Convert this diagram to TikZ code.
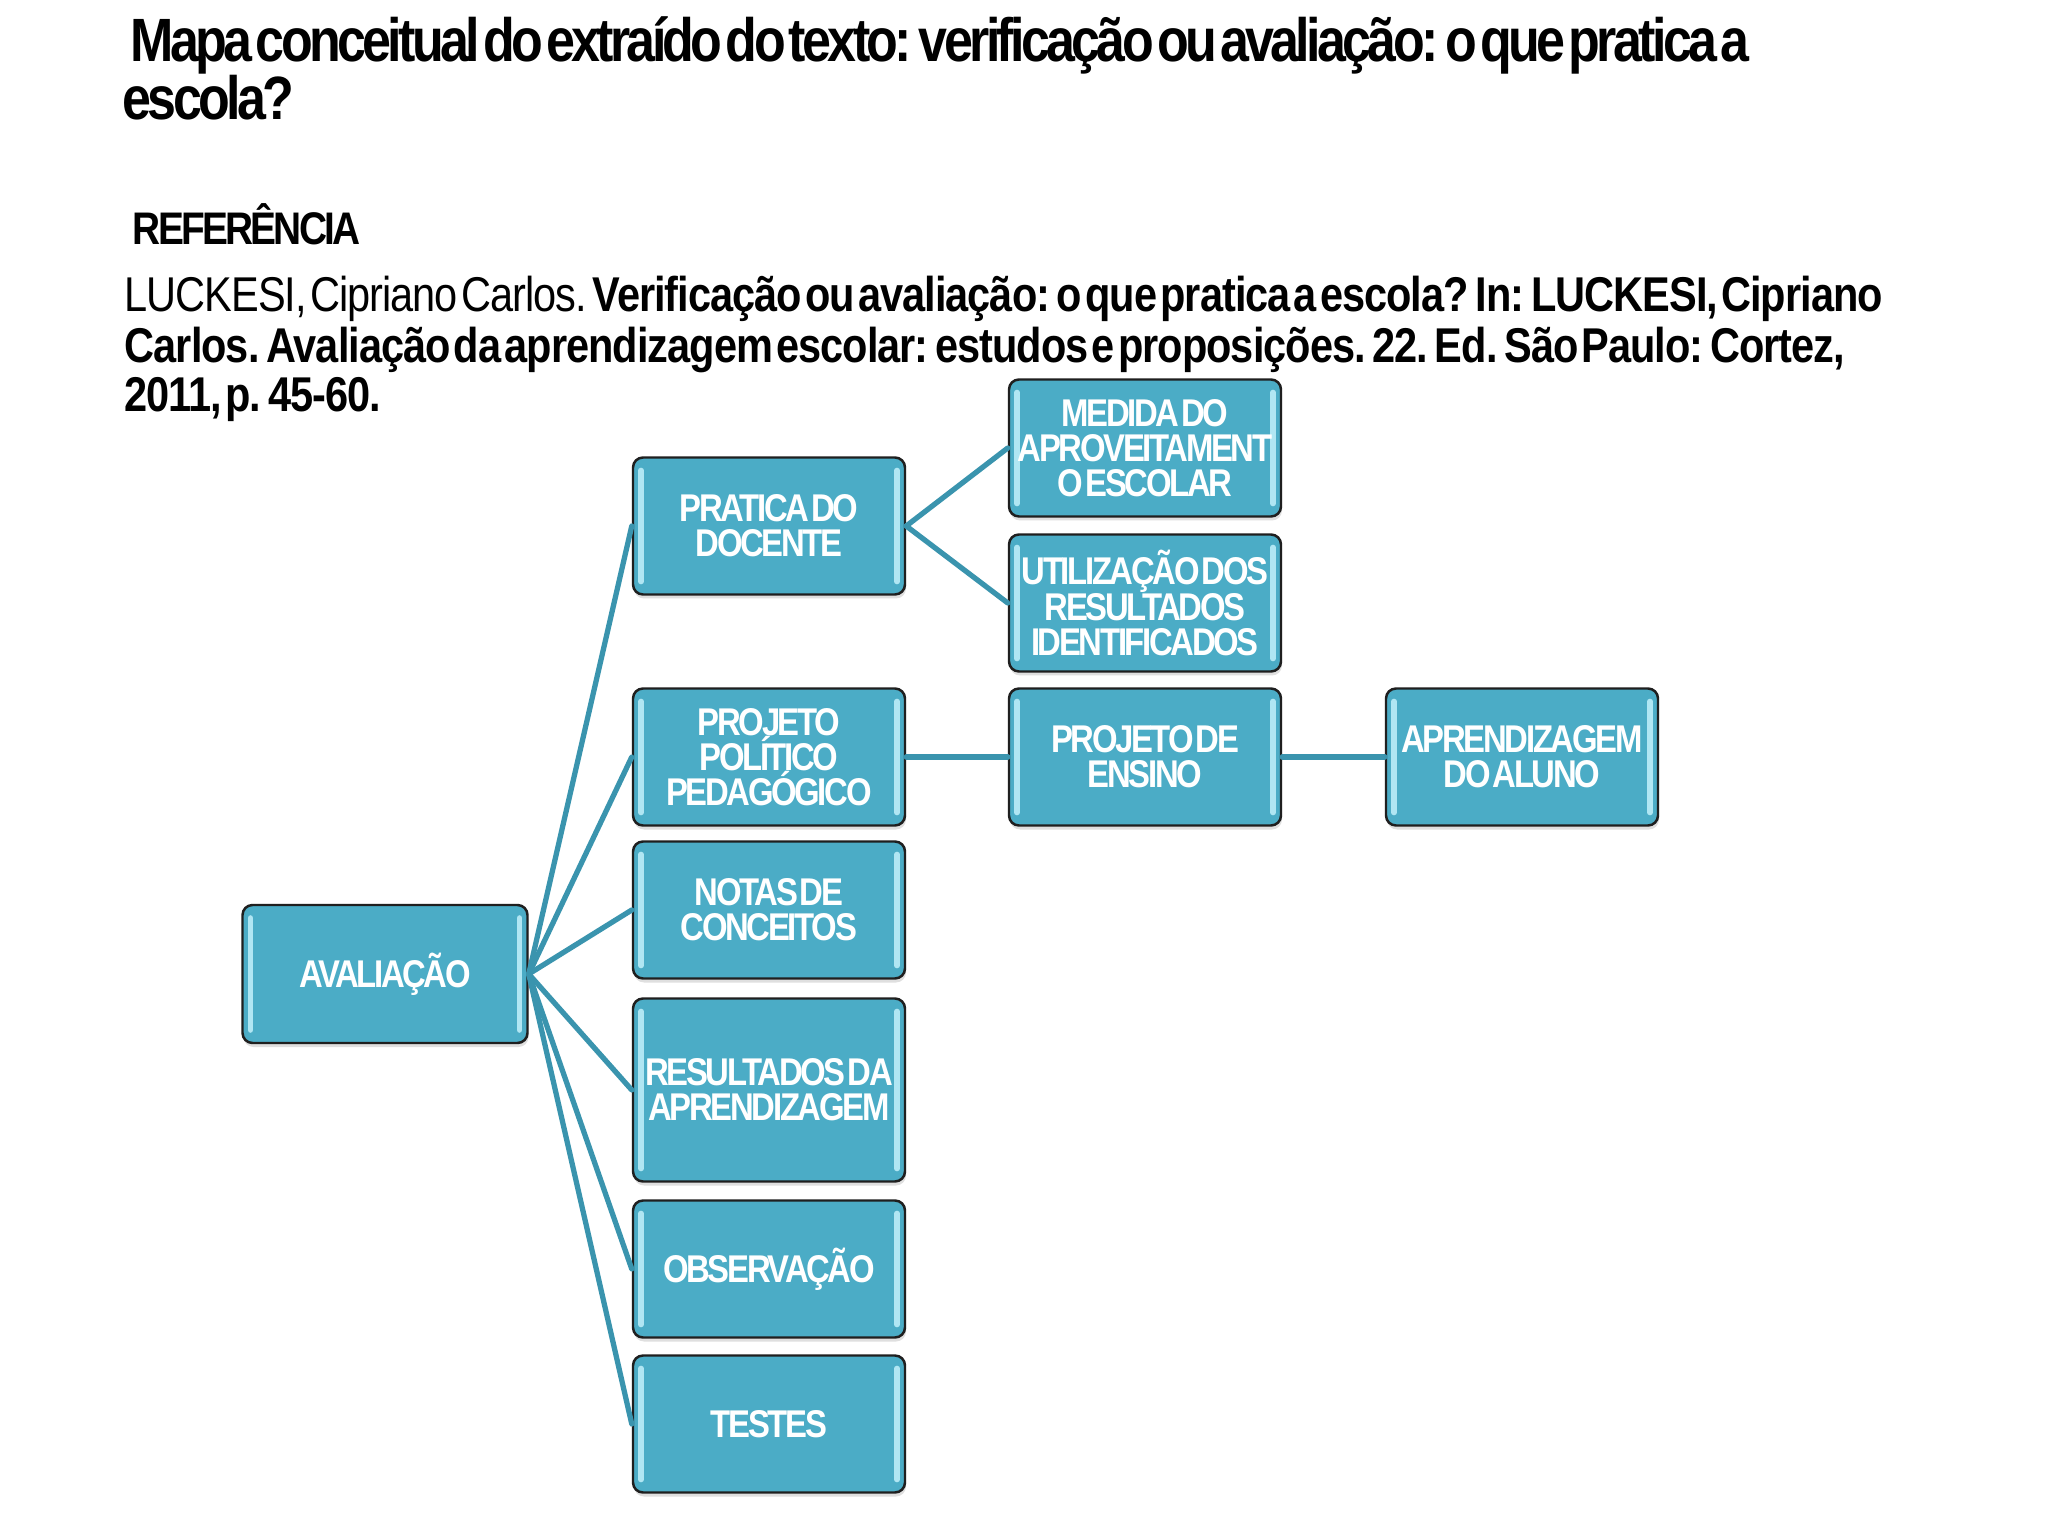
\documentclass[tikz,border=0pt]{standalone}
\usepackage{fontspec}
\setmainfont{Liberation Sans}
\newfontfamily\slidefont[FakeStretch=0.85,LetterSpace=-6,WordSpace=0.3]{Liberation Sans}
\newfontfamily\reffont[FakeStretch=0.85,LetterSpace=-2,WordSpace=0.3]{Liberation Sans}
\usetikzlibrary{shadows}

\definecolor{boxfill}{HTML}{4BACC6}
\definecolor{boxlight}{HTML}{B0E6F3}
\definecolor{boxedge}{HTML}{1F1F1F}
\definecolor{linkline}{HTML}{3A94AE}

\newcommand{\brilho}{
  \draw[boxlight, line width = 1.6pt]
    ([shift = {(0.08cm, -0.13cm)}]path picture bounding box.north west) -- ([shift = {(0.08cm, 0.13cm)}]path picture bounding box.south west)
    ([shift = {(-0.08cm, -0.13cm)}]path picture bounding box.north east) -- ([shift = {(-0.08cm, 0.13cm)}]path picture bounding box.south east);
}

\begin{document}
\begin{tikzpicture}[line cap = round, line join = round,
  conceito/.style = {draw = boxedge, line width = 0.7pt, fill = boxfill, rounded corners = 0.1cm,
    minimum width = 2.72cm, minimum height = 1.37cm, inner sep = 0.05cm, align = center, text = white,
    font = \slidefont\bfseries\fontsize{11}{10}\selectfont,
    drop shadow = {shadow xshift = 0.01cm, shadow yshift = -0.04cm, opacity = 0.25},
    path picture = {\brilho}},
  ligacao/.style = {draw = linkline, line width = 1.5pt},
  texto/.style = {anchor = base west, inner sep = 0}]

  \fill[white] (0, 0) rectangle (20.48, -15.36);
  \useasboundingbox (0, 0) rectangle (20.48, -15.36);

  % titulo e referencia
  \node[texto, font = \slidefont\bfseries\fontsize{17.4}{20}\selectfont] (titulo) at (1.30, -0.62)
    {Mapa conceitual do extraído do texto: verificação ou avaliação: o que pratica a};
  \node[texto, font = \slidefont\bfseries\fontsize{17.4}{20}\selectfont] (titulo2) at (1.22, -1.20) {escola?};
  \node[texto, font = \slidefont\bfseries\fontsize{13}{15}\selectfont] (referencia) at (1.32, -2.45) {REFERÊNCIA};
  \node[texto, font = \reffont\fontsize{13.9}{16}\selectfont] (ref1) at (1.24, -3.12)
    {LUCKESI, Cipriano Carlos. \textbf{Verificação ou avaliação: o que pratica a escola? In: LUCKESI, Cipriano}};
  \node[texto, font = \reffont\bfseries\fontsize{13.9}{16}\selectfont] (ref2) at (1.24, -3.63)
    {Carlos. Avaliação da aprendizagem escolar: estudos e proposições. 22. Ed. São Paulo: Cortez,};
  \node[texto, font = \reffont\bfseries\fontsize{13.9}{16}\selectfont] (ref3) at (1.24, -4.12) {2011, p. 45-60.};

  % mapa
  \node[conceito, minimum width = 2.85cm, minimum height = 1.38cm] (avaliacao) at (3.85, -9.74) {AVALIAÇÃO};

  \node[conceito] (pratica) at (7.69, -5.26) {PRATICA DO\\DOCENTE};
  \node[conceito] (ppp) at (7.69, -7.57) {PROJETO\\POLÍTICO\\PEDAGÓGICO};
  \node[conceito] (notas) at (7.69, -9.10) {NOTAS DE\\CONCEITOS};
  \node[conceito, minimum height = 1.83cm] (result) at (7.69, -10.90) {RESULTADOS DA\\APRENDIZAGEM};
  \node[conceito] (obs) at (7.69, -12.69) {OBSERVAÇÃO};
  \node[conceito] (testes) at (7.69, -14.24) {TESTES};

  \node[conceito] (medida) at (11.45, -4.48) {MEDIDA DO\\APROVEITAMENT\\O ESCOLAR};
  \node[conceito] (util) at (11.45, -6.03) {UTILIZAÇÃO DOS\\RESULTADOS\\IDENTIFICADOS};
  \node[conceito] (ensino) at (11.45, -7.57) {PROJETO DE\\ENSINO};
  \node[conceito] (aprend) at (15.22, -7.57) {APRENDIZAGEM\\DO ALUNO};

  \foreach \filho in {pratica, ppp, notas, result, obs, testes}
    \draw[ligacao] (avaliacao.east) -- (\filho.west);

  \draw[ligacao] (pratica.east) -- (medida.west);
  \draw[ligacao] (pratica.east) -- (util.west);
  \draw[ligacao] (ppp.east) -- (ensino.west);
  \draw[ligacao] (ensino.east) -- (aprend.west);
\end{tikzpicture}
\end{document}
